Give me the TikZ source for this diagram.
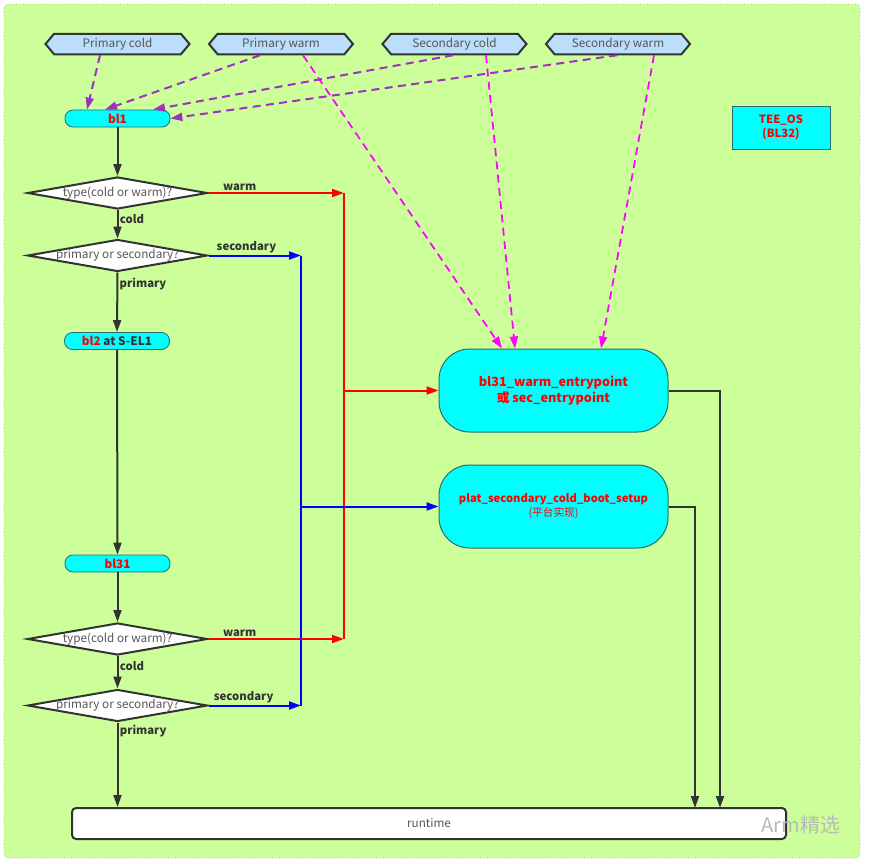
\documentclass[tikz,border=0pt]{standalone}
\usepackage{fontspec}
\setmainfont{Noto Sans CJK SC}
\usetikzlibrary{arrows.meta,shapes.geometric,shapes.symbols,calc}
\definecolor{bggreen}{HTML}{CCFF99}
\definecolor{hexblue}{HTML}{BBDEFB}
\definecolor{dk}{HTML}{333333}
\definecolor{txtgray}{HTML}{555555}
\definecolor{cyanbox}{HTML}{00FFFF}
\definecolor{boxedge}{HTML}{2E6B6B}
\definecolor{purp}{HTML}{A030C0}
\definecolor{mag}{HTML}{FF00FF}
\definecolor{redc}{HTML}{FF0000}
\definecolor{bluec}{HTML}{0000FF}
\newcommand\zw[1]{\makebox[0pt]{#1}}
\tikzset{
  hexa/.style={shape=signal, signal to=west and east, signal pointer angle=100,
    draw=dk, line width=1.5pt, fill=hexblue, minimum width=144*0.75pt,
    minimum height=20.5*0.75pt, inner sep=0pt, text=txtgray,
    font=\fontsize{8.8}{10}\selectfont},
  pill/.style={draw=boxedge, line width=0.6pt, fill=cyanbox, rounded corners=6pt,
    minimum width=105*0.75pt, minimum height=17*0.75pt, inner sep=0pt,
    text=redc, font=\bfseries\fontsize{8.8}{10}\selectfont},
  dia/.style={shape=diamond, shape aspect=5.48, draw=dk, line width=1.5pt, fill=white,
    minimum width=180*0.75pt, minimum height=32*0.75pt, inner sep=0pt,
    text=txtgray, font=\fontsize{8.8}{9}\selectfont},
  bigbox/.style={draw=boxedge, line width=0.75pt, fill=cyanbox, rounded corners=23pt,
    minimum width=229*0.75pt, minimum height=83*0.75pt, inner sep=0pt, align=center,
    text=redc, font=\bfseries\fontsize{9.5}{12.5}\selectfont},
  lbl/.style={text=dk, font=\bfseries\fontsize{8.5}{10}\selectfont, inner sep=1pt},
  dkl/.style={draw=dk, line width=1.5pt},
  dka/.style={dkl, -{Triangle[length=9pt,width=6pt]}},
  redl/.style={draw=redc, line width=1.5pt},
  reda/.style={redl, -{Triangle[length=9pt,width=6pt]}},
  bluel/.style={draw=bluec, line width=1.5pt},
  bluea/.style={bluel, -{Triangle[length=9pt,width=6pt]}},
  purpa/.style={draw=purp, line width=1.5pt, dash pattern=on 6pt off 4pt,
    -{Triangle[length=9pt,width=6pt]}},
  maga/.style={draw=mag, line width=1.3pt, dash pattern=on 6pt off 4pt,
    -{Triangle[length=9pt,width=6pt]}},
}
\begin{document}
\begin{tikzpicture}[x=0.75pt,y=-0.75pt]
\useasboundingbox (0,0) rectangle (869,864);
\fill[white] (0,0) rectangle (869,864);
\draw[fill=bggreen, draw=gray!60, dotted, line width=0.6pt, rounded corners=3pt] (4,4) rectangle (860,858);

% top hexagons
\node[hexa] (pc) at (117.5,44) {Primary cold};
\node[hexa] (pw) at (281,44) {Primary warm};
\node[hexa] (sc) at (454.5,44) {Secondary cold};
\node[hexa] (sw) at (618,44) {Secondary warm};

% left column
\node[pill] (bl1) at (117.5,118.5) {bl1};
\node[dia] (d1) at (117.5,193) {\zw{type(cold or warm)?}};
\node[dia] (d2) at (117.5,255.5) {\zw{primary or secondary?}};
\node[pill] (bl2) at (117,341) {bl2 \textcolor{dk}{at S-EL1}};
\node[pill] (bl31) at (117.5,563.5) {bl31};
\node[dia] (d3) at (117.5,639) {\zw{type(cold or warm)?}};
\node[dia] (d4) at (117.5,705.5) {\zw{primary or secondary?}};

% right boxes
\node[bigbox] (bA) at (553.5,390.5) {bl31\_warm\_entrypoint\\或 sec\_entrypoint};
\node[bigbox, font=\bfseries\fontsize{8.4}{12.5}\selectfont] (bB) at (553.5,506.5) {plat\_secondary\_cold\_boot\_setup\\[-2pt]{\mdseries\fontsize{8}{10}\selectfont (平台实现)}};
\node[draw=boxedge, line width=0.75pt, fill=cyanbox, minimum width=98*0.75pt,
  minimum height=43*0.75pt, inner sep=0pt, align=center, text=redc,
  font=\bfseries\fontsize{8.5}{10.5}\selectfont] (tee) at (781,127.5) {TEE\_OS\\(BL32)};
\node[draw=dk, line width=1.5pt, fill=white, rounded corners=3pt, minimum width=714*0.75pt,
  minimum height=31*0.75pt, inner sep=0pt, text=txtgray,
  font=\fontsize{8.8}{10}\selectfont] (rt) at (429,823.5) {runtime};

% junction coordinates
\coordinate (r1) at (344,193);
\coordinate (r2) at (344,639);
\coordinate (rA) at (344,390.5);
\coordinate (b1) at (301,255.5);
\coordinate (b2) at (301,705.5);
\coordinate (bBj) at (301,506.5);
\coordinate (rtA) at (720,808);
\coordinate (rtB) at (695,808);

% left flow
\draw[dka] (bl1.south) -- (d1.north);
\draw[dka] (d1.south) -- node[lbl, anchor=west, pos=0.3] {cold} (d2.north);
\draw[dka] (d2.south) -- node[lbl, anchor=west, pos=0.2] {primary} (bl2.north);
\draw[dka] (bl2.south) -- (bl31.north);
\draw[dka] (bl31.south) -- (d3.north);
\draw[dka] (d3.south) -- node[lbl, anchor=west, pos=0.3] {cold} (d4.north);
\draw[dka] (d4.south) -- node[lbl, anchor=west, pos=0.1] {primary} (d4.south |- rt.north);

% warm (red)
\draw[reda] (d1.east) -- node[lbl, above, pos=0.23] {warm} (r1);
\draw[reda] (d3.east) -- node[lbl, above, pos=0.23] {warm} (r2);
\draw[redl] (r1) -- (r2);
\draw[reda] (rA) -- (bA.west);

% secondary (blue)
\draw[bluea] (d2.east) -- node[lbl, above, pos=0.41] {secondary} (b1);
\draw[bluea] (d4.east) -- node[lbl, above, pos=0.38] {secondary} (b2);
\draw[bluel] (b1) -- (b2);
\draw[bluea] (bBj) -- (bB.west);

% to runtime
\draw[dka] (bA.east) -| (rtA);
\draw[dka] (bB.east) -| (rtB);

% purple dashed
\draw[purpa] ($(pc.south)+(-17.5,0)$) -- ($(bl1.north)+(-30.5,0)$);
\draw[purpa] ($(pw.south)+(-21,0)$) -- ($(bl1.north)+(-12.5,0)$);
\draw[purpa] ($(sc.south)+(-1.5,0)$) -- ($(bl1.north)+(35.5,0)$);
\draw[purpa] ($(sw.south)+(-1,0)$) -- (bl1.east);

% magenta dashed
\draw[maga] ($(pw.south)+(22,0)$) -- ($(bA.north)+(-51.5,0)$);
\draw[maga] ($(sc.south)+(31.5,0)$) -- ($(bA.north)+(-38.5,0)$);
\draw[maga] ($(sw.south)+(36,0)$) -- ($(bA.north)+(47.5,0)$);

% watermark
\node[text=gray!55, font=\fontsize{15}{17}\selectfont, inner sep=0pt] (wm) at (801,825) {Arm精选};
\end{tikzpicture}
\end{document}
